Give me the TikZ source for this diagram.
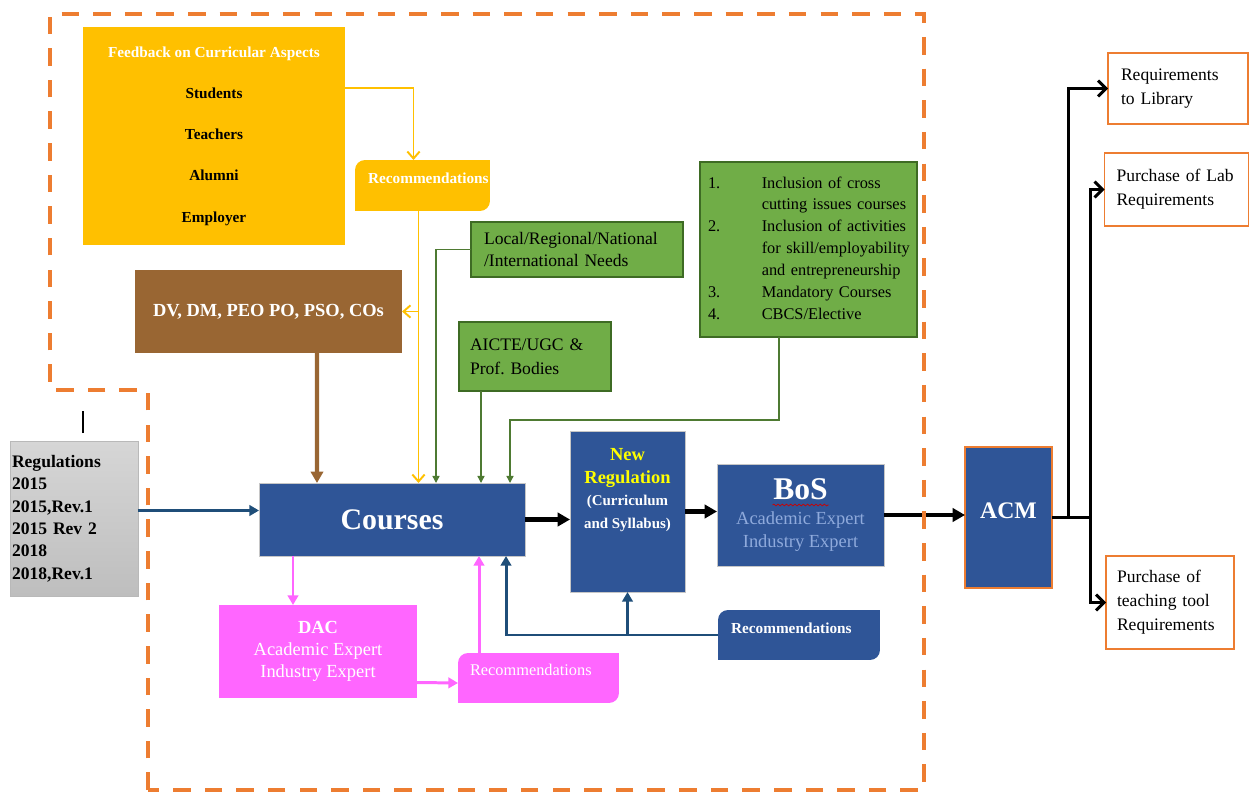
\documentclass[tikz,border=0pt]{standalone}
\usepackage{fontspec}
\setmainfont{Liberation Serif}
\usetikzlibrary{arrows.meta,calc,backgrounds,decorations.pathmorphing}
\newcommand{\myfs}[2]{\fontsize{#1}{#2}\selectfont}

\definecolor{fbyellow}{HTML}{FFC000}
\definecolor{brownbox}{HTML}{996633}
\definecolor{grnbox}{HTML}{70AD47}
\definecolor{grnedge}{HTML}{3E6B24}
\definecolor{grnline}{HTML}{4E7A32}
\definecolor{bluebx}{HTML}{2F5597}
\definecolor{blueline}{HTML}{1F4E79}
\definecolor{pinkbox}{HTML}{FF66FF}
\definecolor{orangeln}{HTML}{ED7D31}
\definecolor{bosgrey}{HTML}{8FAADC}
\definecolor{newyel}{HTML}{FFFF00}
\definecolor{regtop}{HTML}{D6D6D6}
\definecolor{regbot}{HTML}{BEBEBE}

\begin{document}
\frenchspacing
\begin{tikzpicture}[x=0.02cm,y=-0.02cm,
  every node/.style={inner sep=0pt,outer sep=0pt},
  yline/.style={draw=fbyellow, line width=1.1pt, -{Straight Barb[length=4pt,width=7pt]}},
  brline/.style={draw=brownbox, line width=2.3pt, -{Triangle[length=6.5pt,width=7pt]}},
  gline/.style={draw=grnline, line width=0.8pt, -{Triangle[length=4pt,width=4pt]}},
  blline/.style={draw=blueline, line width=1.7pt, -{Triangle[length=5.5pt,width=6pt]}},
  kline/.style={draw=black, line width=2.3pt, -{Triangle[length=7pt,width=7.5pt]}},
  kbranch/.style={draw=black, line width=1.7pt},
  kbarb/.style={kbranch, -{Straight Barb[length=4.5pt,width=9pt]}},
  pline/.style={draw=pinkbox, line width=1.7pt, -{Triangle[length=5.5pt,width=6pt]}},
  greenbox/.style={rectangle, fill=grnbox, draw=grnedge, line width=0.7pt, align=left, font=\myfs{10}{12.5}},
  bluebox/.style={rectangle, fill=bluebx, draw=gray!45, line width=0.5pt, text=white},
  reqbox/.style={rectangle, fill=white, draw=orangeln, line width=0.9pt, align=left, font=\myfs{10}{13.6}},
  recbox/.style={rectangle, rounded corners=0.2cm, minimum height=1cm},
  rectext/.style={anchor=west, text=white},
]
\useasboundingbox (0,0) rectangle (1250,793);

% ---------- feedback block ----------
\node[rectangle, fill=fbyellow, minimum width=5.24cm, minimum height=4.36cm,
      align=center, font=\bfseries\myfs{8.7}{23.5}] (fb) at (214,136)
  {\textcolor{white}{Feedback on Curricular Aspects}\\Students\\Teachers\\Alumni\\Employer};

\node[recbox, fill=fbyellow, minimum width=2.7cm, minimum height=1.02cm] (recY) at (422.5,185.5) {};
\node[rectext, font=\bfseries\myfs{8.7}{10}] (recYt) at ($(recY.west)+(13,-7)$) {Recommendations};

\node[rectangle, fill=brownbox, minimum width=5.34cm, minimum height=1.66cm,
      text=white, font=\bfseries\myfs{10.5}{12}] (dv) at (268.5,311.5) {DV, DM, PEO PO, PSO, COs};

% ---------- green inputs ----------
\node[greenbox, inner xsep=0.26cm, text width=3.72cm, minimum height=1.1cm] (local) at (577,249.5)
  {Local/Regional/National\\/International Needs};
\node[greenbox, inner xsep=0.22cm, text width=2.6cm, minimum height=1.38cm, font=\myfs{10}{13.6}] (aicte) at (535,356.5)
  {AICTE/UGC \&\\Prof. Bodies};
\node[greenbox, inner xsep=0.16cm, text width=4.02cm, minimum height=3.5cm, font=\myfs{9.3}{12.5}] (list) at (808.5,249.5)
  {\begin{tabular}{@{}p{30.6pt}@{}l@{}}
   1. & Inclusion of cross\\
      & cutting issues courses\\
   2. & Inclusion of activities\\
      & for skill/employability\\
      & and entrepreneurship\\
   3. & Mandatory Courses\\
   4. & CBCS/Elective
   \end{tabular}};

% ---------- main flow ----------
\node[rectangle, draw=gray!55, line width=0.5pt, top color=regtop, bottom color=regbot,
      minimum height=3.1cm, inner xsep=0.04cm, text width=2.48cm, align=left,
      font=\bfseries\myfs{10}{12.7}] (regs) at (74,518.5)
  {Regulations\\2015\\2015,Rev.1\\2015 Rev 2\\2018\\2018,Rev.1};

\node[bluebox, minimum width=5.32cm, minimum height=1.46cm, font=\bfseries\myfs{17}{20}] (courses) at (392,519.5) {Courses};

\node[bluebox, minimum width=2.3cm, minimum height=3.22cm] (newreg) at (627.5,511.5) {};
\node[align=center, text=white, font=\bfseries\myfs{10.5}{13}] (newregt) at (627.5,490)
  {\textcolor{newyel}{New}\\\textcolor{newyel}{Regulation}\\{\myfs{8.5}{10}(Curriculum}\\{\myfs{8.5}{10}and Syllabus)}};

\node[bluebox, minimum width=3.34cm, minimum height=2.04cm, align=center, font=\myfs{10.5}{13}] (bos) at (800.5,515)
  {{\bfseries\myfs{18}{13}BoS}\\[1.7pt]\textcolor{bosgrey}{Academic Expert}\\\textcolor{bosgrey}{Industry Expert}};
\draw[red!80!black, line width=0.4pt, decorate, decoration={snake, amplitude=0.5pt, segment length=2.4pt}]
  ($(bos.north)+(-28,41)$) -- ++(56,0);

\node[rectangle, fill=bluebx, draw=orangeln, line width=0.6pt, minimum width=1.74cm, minimum height=2.82cm,
      text=white, text depth=8pt, font=\bfseries\myfs{13.5}{15}] (acm) at (1008.5,517.5) {ACM};

% ---------- outcomes ----------
\node[reqbox, minimum height=1.42cm, inner xsep=0.26cm, text width=2.28cm] (lib) at (1178,88.5)
  {Requirements\\to Library};
\node[reqbox, minimum height=1.46cm, inner xsep=0.24cm, text width=2.4cm] (lab) at (1176.5,189.5)
  {Purchase of Lab\\Requirements};
\node[reqbox, minimum height=1.86cm, inner xsep=0.22cm, text width=2.12cm] (teach) at (1170,602.5)
  {Purchase of\\teaching tool\\Requirements};

% ---------- review loop ----------
\node[rectangle, fill=pinkbox, minimum width=3.96cm, minimum height=1.86cm, align=center,
      text=white, font=\myfs{10.5}{12.5}] (dac) at (318,651.5)
  {\textbf{DAC}\\Academic Expert\\Industry Expert};
\node[recbox, fill=pinkbox, minimum width=3.22cm] (recP) at (538.5,678) {};
\node[rectext, font=\myfs{9.3}{11}] (recPt) at ($(recP.west)+(12,-8)$) {Recommendations};

\node[recbox, fill=bluebx, minimum width=3.24cm] (recB) at (799,635) {};
\node[rectext, font=\bfseries\myfs{8.7}{10}] (recBt) at ($(recB.west)+(13,-7)$) {Recommendations};

% square corners of the recommendation tabs
\begin{scope}[on background layer]
  \foreach \r/\c in {recY/fbyellow, recP/pinkbox, recB/bluebx}{
    \fill[\c] (\r.north east) rectangle ++(-14,14);
    \fill[\c] (\r.south west) rectangle ++(14,-14);
  }
\end{scope}

% ---------- connectors ----------
\draw[yline] ($(fb.east)+(0,-48)$) -| ($(recY.north)+(-9,0)$);
\coordinate (ydrop) at ($(recY.south)+(-4,0)$);
\draw[yline] (ydrop) -- (ydrop |- courses.north);
\draw[yline] (ydrop |- dv.east) -- (dv.east);

\draw[brline] ($(dv.south)+(48.5,0)$) -- ($(courses.north)+(-75,0)$);

\draw[gline] (local.west) -| ($(courses.north)+(44,0)$);
\draw[gline] ($(aicte.south)+(-54,0)$) -- ($(courses.north)+(89,0)$);
\draw[gline] ($(list.south)+(-29.5,0)$) |- ($(courses.north)+(118,-63)$) -- ($(courses.north)+(118,0)$);

\draw[blline] ($(regs.east)+(0,-8)$) -- ($(courses.west)+(0,-9)$);
\draw[blline] (recB.west) -| ($(courses.south)+(114,0)$);
\draw[blline] (recB.west -| newreg.south) -- (newreg.south);

\draw[kline] (courses.east) -- (courses.east -| newreg.west);
\draw[kline] (newreg.east) -- (newreg.east -| bos.west);
\draw[kline] (bos.east) -- (bos.east -| acm.west);

\coordinate (j1) at ($(acm.east)+(16,0)$);
\coordinate (j2) at ($(acm.east)+(38,0)$);
\draw[kbranch] (acm.east) -- (j2);
\draw[kbarb] (j1) |- (lib.west);
\draw[kbarb] (j2) |- (lab.west);
\draw[kbarb] (j2) |- (teach.west);

\draw[pline] ($(courses.south)+(-99,0)$) -- ($(dac.north)+(-25,0)$);
\draw[pline] ($(dac.east)+(0,31)$) -- ($(recP.west)+(0,5)$);
\draw[pline] ($(recP.north)+(-59.5,0)$) -- ($(courses.south)+(87,0)$);

% small mark above the regulations box
\draw[line width=1.7pt] ($(regs.north)+(9,-8)$) -- ++(0,-22);

% ---------- department boundary ----------
\draw[orangeln, line width=2.4pt, dash pattern=on 10pt off 8pt]
  (148,790) -- (148,390) -- (50,390) -- (50,14) -- (924,14) -- (924,790) -- cycle;
\end{tikzpicture}
\end{document}
